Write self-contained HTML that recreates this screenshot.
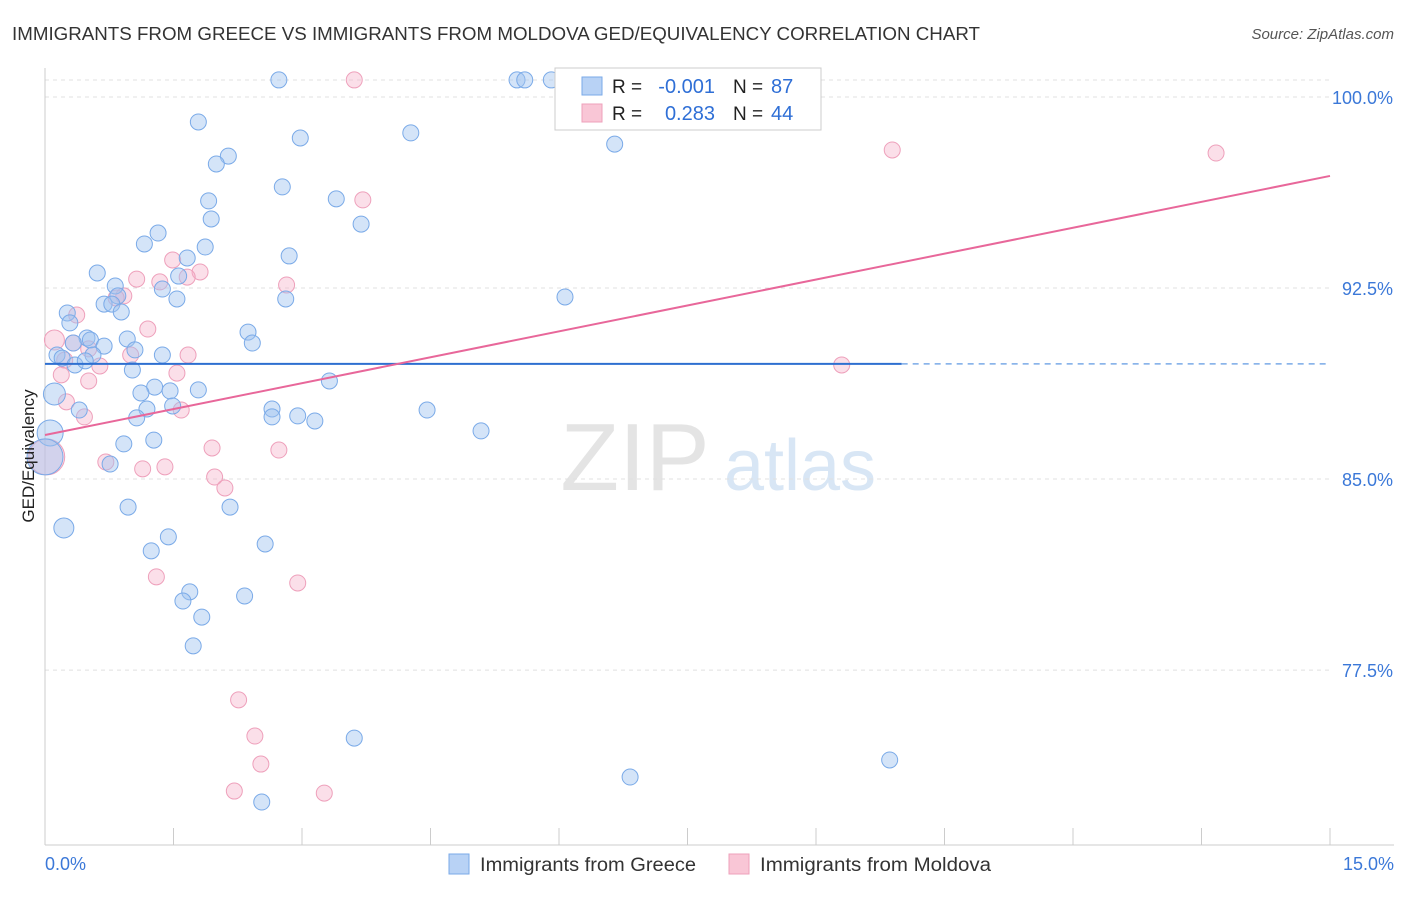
<!DOCTYPE html>
<html><head><meta charset="utf-8">
<style>
body{margin:0;background:#fff;font-family:"Liberation Sans",sans-serif;}
svg text{font-family:"Liberation Sans",sans-serif;}
</style></head>
<body>
<svg id="chart" width="1406" height="892" viewBox="0 0 1406 892">
<text x="12" y="40" font-size="18" fill="#333" textLength="968" lengthAdjust="spacingAndGlyphs">IMMIGRANTS FROM GREECE VS IMMIGRANTS FROM MOLDOVA GED/EQUIVALENCY CORRELATION CHART</text>
<text x="1394" y="39" font-size="15" fill="#555" text-anchor="end" font-style="italic">Source: ZipAtlas.com</text>
<g>
<text x="635" y="490" font-size="96" fill="#e4e4e4" text-anchor="middle" font-family="Liberation Serif">ZIP</text>
<text x="800" y="490" font-size="72" fill="#d8e6f5" text-anchor="middle">atlas</text>
</g>
<g id="grid"></g>
<g id="axes"></g>
<g id="marks"></g>
<text transform="translate(34,456) rotate(-90)" font-size="17" fill="#222" text-anchor="middle">GED/Equivalency</text>
<g>
<rect x="555" y="68" width="266" height="62" fill="#fff" stroke="#ccc"/>
<rect x="582" y="77" width="20" height="18" fill="#b8d2f5" stroke="#7aaae8"/>
<rect x="582" y="104" width="20" height="18" fill="#f9c6d6" stroke="#eea0bb"/>
<text x="612" y="93" font-size="19" fill="#222">R =</text>
<text x="715" y="93" font-size="20" fill="#2f6fd6" text-anchor="end">-0.001</text>
<text x="733" y="93" font-size="19" fill="#222">N =</text>
<text x="771" y="93" font-size="20" fill="#2f6fd6">87</text>
<text x="612" y="120" font-size="19" fill="#222">R =</text>
<text x="715" y="120" font-size="20" fill="#2f6fd6" text-anchor="end">0.283</text>
<text x="733" y="120" font-size="19" fill="#222">N =</text>
<text x="771" y="120" font-size="20" fill="#2f6fd6">44</text>
</g>
<g>
<rect x="449" y="854" width="20" height="20" fill="#b8d2f5" stroke="#7aaae8"/>
<text x="480" y="871" font-size="19" fill="#333" textLength="216" lengthAdjust="spacingAndGlyphs">Immigrants from Greece</text>
<rect x="729" y="854" width="20" height="20" fill="#f9c6d6" stroke="#eea0bb"/>
<text x="760" y="871" font-size="19" fill="#333" textLength="231" lengthAdjust="spacingAndGlyphs">Immigrants from Moldova</text>
</g>
</svg>
<script>
const yTicks=[100,92.5,85,77.5];
const yTickLabels=["100.0%","92.5%","85.0%","77.5%"];
const xTickLabels=["0.0%","15.0%"];
const greeceX=[2.73,5.51,5.60,5.91,1.79,4.27,2.98,6.65,2.14,2.00,2.77,1.91,3.40,1.94,3.69,1.32,1.16,1.87,2.85,1.66,0.61,1.56,0.82,1.37,0.85,0.69,0.78,1.54,2.81,6.07,0.26,0.89,0.29,2.37,0.96,0.49,0.53,2.42,0.69,0.33,1.05,1.37,0.14,0.20,0.56,0.35,0.47,1.02,3.32,1.28,1.12,1.46,1.79,0.11,1.19,1.49,2.65,0.40,4.46,1.07,2.65,2.95,3.15,0.06,5.09,1.27,0.92,0.76,0.00,0.97,2.16,0.22,1.44,1.24,2.57,1.69,1.61,2.33,1.83,1.73,3.61,6.83,9.86,2.53];
const greeceY=[100.67,100.67,100.67,100.67,99.02,98.59,98.39,98.15,97.68,97.37,96.47,95.92,96.00,95.21,95.01,94.66,94.23,94.11,93.76,93.68,93.09,92.97,92.58,92.46,92.19,91.87,91.87,92.07,92.07,92.15,91.52,91.56,91.13,90.77,90.50,90.54,90.46,90.34,90.22,90.34,90.07,89.87,89.87,89.75,89.87,89.48,89.64,89.28,88.85,88.61,88.38,88.46,88.50,88.34,87.75,87.87,87.75,87.71,87.71,87.40,87.44,87.48,87.28,86.81,86.89,86.53,86.38,85.59,85.87,83.90,83.90,83.08,82.73,82.18,82.45,80.57,80.21,80.41,79.58,78.45,74.83,73.30,73.97,72.32];
const greeceR=[8,8,8,8,8,8,8,8,8,8,8,8,8,8,8,8,8,8,8,8,8,8,8,8,8,8,8,8,8,8,8,8,8,8,8,8,8,8,8,8,8,8,8,8,8,8,8,8,8,8,8,8,8,11,8,8,8,8,8,8,8,8,8,13,8,8,8,8,18,8,8,10,8,8,8,8,8,8,8,8,8,8,8,8];
const moldovaX=[3.61,8.28,9.89,13.67,3.71,1.49,1.81,1.66,1.07,1.34,2.82,0.92,0.83,0.37,1.20,0.11,0.33,0.51,1.00,1.67,0.23,0.64,0.19,1.54,0.51,0.25,1.59,0.46,1.95,2.73,0.71,1.14,1.40,1.98,2.10,0.02,1.30,2.95,9.30,2.26,2.45,2.52,2.21,3.26];
const moldovaY=[100.67,99.61,97.92,97.80,95.96,93.60,93.13,92.93,92.85,92.74,92.62,92.19,92.11,91.44,90.89,90.46,90.34,90.11,89.87,89.87,89.67,89.44,89.09,89.16,88.85,88.03,87.71,87.44,86.22,86.14,85.67,85.40,85.48,85.08,84.65,85.87,81.16,80.92,89.48,76.33,74.91,73.81,72.75,72.67];
const moldovaR=[8,8,8,8,8,8,8,8,8,8,8,8,8,8,8,10,8,8,8,8,8,8,8,8,8,8,8,8,8,8,8,8,8,8,8,18,8,8,8,8,8,8,8,8];
const greeceLine=[89.52,89.52];
const moldovaLine=[86.73,96.9];
const X0=45,X1=1330,Y100=97,PXPER=25.47;
const sx=v=>X0+(X1-X0)*v/15;
const sy=v=>Y100+(100-v)*PXPER;
const NS="http://www.w3.org/2000/svg";
function mk(tag,attrs,parent){const e=document.createElementNS(NS,tag);for(const k in attrs)e.setAttribute(k,attrs[k]);parent.appendChild(e);return e;}
const gridG=document.getElementById('grid'),axesG=document.getElementById('axes'),marksG=document.getElementById('marks');
const topLine=mk('line',{x1:X0,x2:X1,y1:80,y2:80,stroke:'#e0e0e0','stroke-dasharray':'4,4'},gridG);


yTicks.forEach((t,i)=>{
 const l=mk('line',{x1:X0,x2:X1,y1:sy(t),y2:sy(t),stroke:'#e0e0e0','stroke-dasharray':'4,4'},gridG);
 
 
 const tx=mk('text',{x:1393,y:sy(t)+7,'font-size':18,fill:'#3b78d8','text-anchor':'end'},axesG);
 tx.textContent=yTickLabels[i];
 
 
});
const yAxisLine=mk('line',{x1:X0,x2:X0,y1:68,y2:845,stroke:'#ccc'},axesG);


const xAxisLine=mk('line',{x1:X0,x2:1394,y1:845,y2:845,stroke:'#ccc'},axesG);


for(let i=0;i<=10;i++){
 const x=sx(i*1.5);
 const t=mk('line',{x1:x,x2:x,y1:828,y2:845,stroke:'#ccc'},axesG);
 
 
}
[[0,45,'start'],[1,1394,'end']].forEach(([i,x,a])=>{
 const tx=mk('text',{x:x,y:870,'font-size':18,fill:'#3b78d8','text-anchor':a},axesG);
 tx.textContent=xTickLabels[i];
 
 
});
moldovaX.forEach((v,i)=>{
 const c=mk('circle',{cx:sx(v),cy:sy(moldovaY[i]),r:moldovaR[i],fill:'rgba(245,175,200,0.4)',stroke:'#eea0bb','stroke-width':1},marksG);
 
 
});
greeceX.forEach((v,i)=>{
 const c=mk('circle',{cx:sx(v),cy:sy(greeceY[i]),r:greeceR[i],fill:'rgba(160,195,240,0.45)',stroke:'#7aaae8','stroke-width':1},marksG);
 
 
});
const g1=mk('line',{x1:sx(0),x2:sx(10),y1:sy(greeceLine[0]),y2:sy(greeceLine[0]),stroke:'#2e6fd0','stroke-width':2},marksG);


const g2=mk('line',{x1:sx(10),x2:sx(15),y1:sy(greeceLine[0]),y2:sy(greeceLine[1]),stroke:'#7aaae8','stroke-width':1.5,'stroke-dasharray':'6,5'},marksG);


const m1=mk('line',{x1:sx(0),x2:sx(15),y1:sy(moldovaLine[0]),y2:sy(moldovaLine[1]),stroke:'#e8679a','stroke-width':2},marksG);


</script>
</body></html>
